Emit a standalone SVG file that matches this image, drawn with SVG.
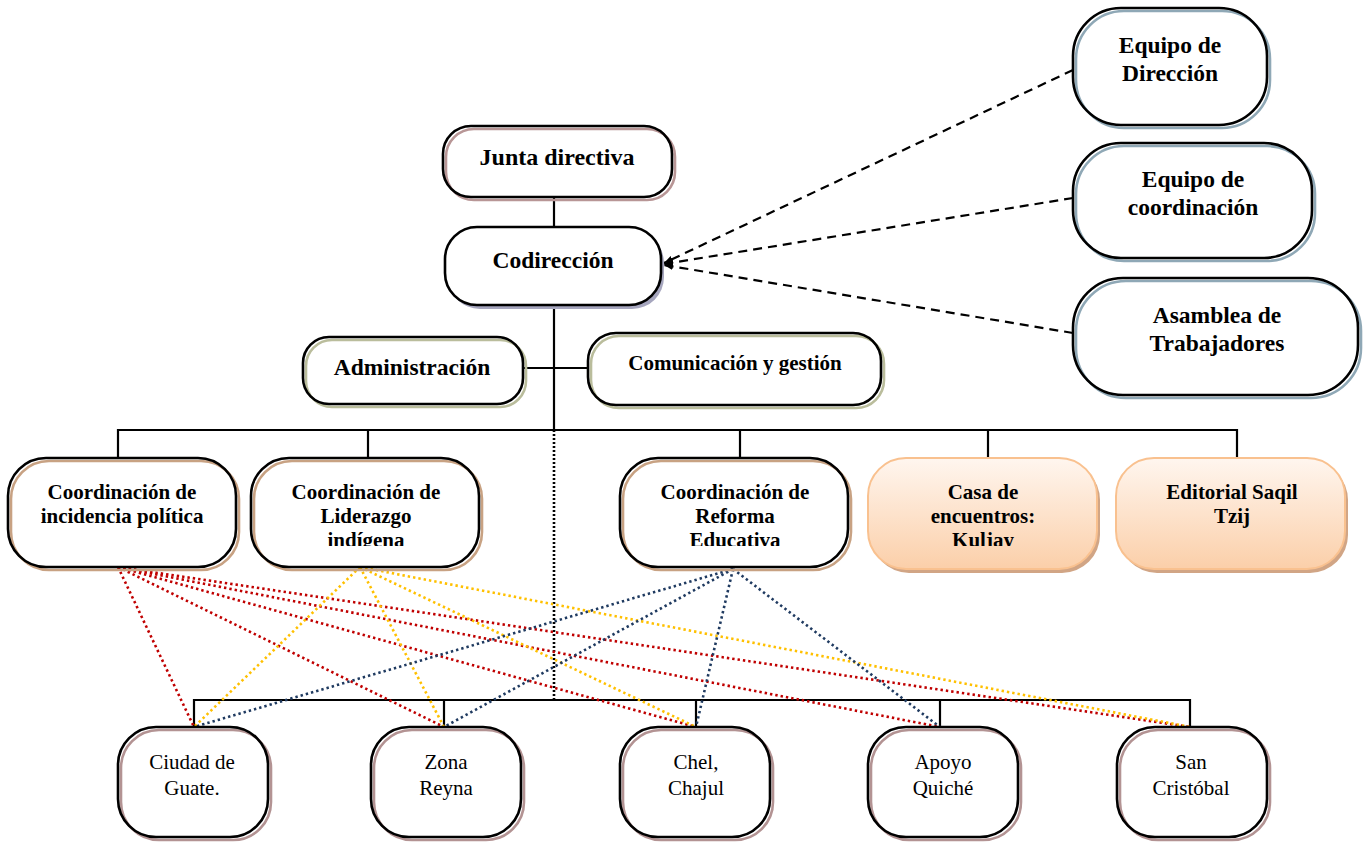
<svg xmlns="http://www.w3.org/2000/svg" width="1369" height="844" viewBox="0 0 1369 844">
<style>
.f{fill:#fff}
.k{fill:none;stroke:#000;stroke-width:2.6}
.s1{fill:none;stroke:#b89696;stroke-width:2.6}
.s2{fill:none;stroke:#8fa8b6;stroke-width:2.6}
.s3{fill:none;stroke:#babd9c;stroke-width:2.6}
.s4{fill:none;stroke:#c8a283;stroke-width:2.6}
.s5{fill:none;stroke:#b39393;stroke-width:2.6}
.pe{fill:url(#peach);stroke:#f9c18f;stroke-width:2}
.peS{fill:#d1a585}
.tb{font-family:"Liberation Serif",serif;font-weight:bold;text-anchor:middle;fill:#000}
.tr{font-family:"Liberation Serif",serif;text-anchor:middle;fill:#000;font-size:21px}
.ln{fill:none;stroke:#000;stroke-width:2.2}
.dash{fill:none;stroke:#000;stroke-width:2.2;stroke-dasharray:9 6;marker-end:url(#arr)}
.dot{fill:none;stroke-width:2.6;stroke-dasharray:2.4 3}
.red{stroke:#c00000}
.yel{stroke:#ffc000}
.nav{stroke:#1f3a60}
</style>
<defs>
<linearGradient id="peach" x1="0" y1="0" x2="0" y2="1">
<stop offset="0" stop-color="#fff6ef"/>
<stop offset="1" stop-color="#fbcfa9"/>
</linearGradient>
<marker id="arr" markerWidth="10" markerHeight="10" refX="9" refY="5" orient="auto" markerUnits="userSpaceOnUse">
<path d="M0,1.5 L9,5 L0,8.5 z" fill="#000"/>
</marker>
<clipPath id="c2"><rect x="240" y="460" width="250" height="86"/></clipPath>
<clipPath id="c3"><rect x="610" y="460" width="250" height="86"/></clipPath>
<clipPath id="c4"><rect x="860" y="460" width="250" height="86"/></clipPath>
</defs>

<g id="connectors">
<line class="ln" x1="554" y1="197" x2="554" y2="228"/>
<line class="ln" x1="554" y1="305" x2="554" y2="430"/>
<line class="ln" x1="523" y1="368" x2="588" y2="368"/>
<polyline class="ln" points="118,458 118,430 1237,430 1237,458"/>
<line class="ln" x1="368" y1="430" x2="368" y2="458"/>
<line class="ln" x1="740" y1="430" x2="740" y2="458"/>
<line class="ln" x1="988" y1="430" x2="988" y2="458"/>
<line x1="554" y1="430" x2="554" y2="700" stroke="#000" stroke-width="2.6" stroke-dasharray="2 2"/>
<polyline class="ln" points="194,727 194,700 1190,700 1190,727"/>
<line class="ln" x1="444" y1="700" x2="444" y2="727"/>
<line class="ln" x1="696" y1="700" x2="696" y2="727"/>
<line class="ln" x1="940" y1="700" x2="940" y2="727"/>
<line class="dash" x1="1073" y1="70" x2="664" y2="263"/>
<line class="dash" x1="1073" y1="198" x2="664" y2="264"/>
<line class="dash" x1="1073" y1="333" x2="664" y2="265"/>
<g class="dot red">
<line x1="118" y1="567" x2="194" y2="727"/>
<line x1="118" y1="567" x2="444" y2="727"/>
<line x1="118" y1="567" x2="696" y2="727"/>
<line x1="118" y1="567" x2="940" y2="727"/>
<line x1="118" y1="567" x2="1190" y2="727"/>
</g>
<g class="dot yel">
<line x1="360" y1="567" x2="194" y2="727"/>
<line x1="360" y1="567" x2="444" y2="727"/>
<line x1="360" y1="567" x2="696" y2="727"/>
<line x1="360" y1="567" x2="1190" y2="727"/>
</g>
<g class="dot nav">
<line x1="733" y1="569" x2="194" y2="727"/>
<line x1="733" y1="569" x2="444" y2="727"/>
<line x1="733" y1="569" x2="696" y2="727"/>
<line x1="733" y1="569" x2="940" y2="727"/>
</g>
</g>

<g id="junta">
<rect class="f" x="443" y="126" width="229" height="71" rx="28"/>
<rect class="s1" x="446" y="129" width="229" height="71" rx="28"/>
<rect class="k" x="443" y="126" width="229" height="71" rx="28"/>
<text class="tb" x="557" y="165" font-size="24">Junta directiva</text>
</g>
<g id="codireccion">
<rect x="448" y="231" width="216" height="78" rx="32" fill="#a6a6be"/>
<rect class="f" x="445" y="227" width="216" height="78" rx="32"/>
<rect class="k" x="445" y="227" width="216" height="78" rx="32"/>
<text class="tb" x="553" y="268" font-size="23.5">Codirección</text>
</g>
<g id="administracion">
<rect class="f" x="303" y="337" width="220" height="67" rx="26"/>
<rect class="s3" x="306" y="340" width="220" height="67" rx="26"/>
<rect class="k" x="303" y="337" width="220" height="67" rx="26"/>
<text class="tb" x="412" y="375" font-size="23.5">Administración</text>
</g>
<g id="comunicacion">
<rect class="f" x="588" y="333" width="293" height="72" rx="28"/>
<rect class="s3" x="591" y="336" width="293" height="72" rx="28"/>
<rect class="k" x="588" y="333" width="293" height="72" rx="28"/>
<text class="tb" x="735" y="370" font-size="21">Comunicación y gestión</text>
</g>
<g id="equipo-direccion">
<rect class="f" x="1073" y="8" width="194" height="117" rx="48"/>
<rect class="s2" x="1076" y="11" width="194" height="117" rx="48"/>
<rect class="k" x="1073" y="8" width="194" height="117" rx="48"/>
<text class="tb" x="1170" y="53" font-size="23.5">Equipo de</text>
<text class="tb" x="1170" y="81" font-size="23.5">Dirección</text>
</g>
<g id="equipo-coordinacion">
<rect class="f" x="1073" y="143" width="239" height="115" rx="48"/>
<rect class="s2" x="1076" y="146" width="239" height="115" rx="48"/>
<rect class="k" x="1073" y="143" width="239" height="115" rx="48"/>
<text class="tb" x="1193" y="187" font-size="23.5">Equipo de</text>
<text class="tb" x="1193" y="215" font-size="23.5">coordinación</text>
</g>
<g id="asamblea">
<rect class="f" x="1073" y="278" width="285" height="117" rx="50"/>
<rect class="s2" x="1076" y="281" width="285" height="117" rx="50"/>
<rect class="k" x="1073" y="278" width="285" height="117" rx="50"/>
<text class="tb" x="1217" y="323" font-size="23.5">Asamblea de</text>
<text class="tb" x="1217" y="351" font-size="23.5">Trabajadores</text>
</g>

<g id="coord-incidencia">
<rect class="f" x="8" y="458" width="228" height="109" rx="38"/>
<rect class="s4" x="11" y="461" width="228" height="109" rx="38"/>
<rect class="k" x="8" y="458" width="228" height="109" rx="38"/>
<text class="tb" x="122" y="499" font-size="21">Coordinación de</text>
<text class="tb" x="122" y="523" font-size="21">incidencia política</text>
</g>
<g id="coord-liderazgo">
<rect class="f" x="251" y="458" width="228" height="109" rx="38"/>
<rect class="s4" x="254" y="461" width="228" height="109" rx="38"/>
<rect class="k" x="251" y="458" width="228" height="109" rx="38"/>
<g clip-path="url(#c2)">
<text class="tb" x="366" y="499" font-size="21">Coordinación de</text>
<text class="tb" x="366" y="523" font-size="21">Liderazgo</text>
<text class="tb" x="366" y="547" font-size="21">indígena</text>
</g>
</g>
<g id="coord-reforma">
<rect class="f" x="620" y="458" width="228" height="109" rx="38"/>
<rect class="s4" x="623" y="461" width="228" height="109" rx="38"/>
<rect class="k" x="620" y="458" width="228" height="109" rx="38"/>
<g clip-path="url(#c3)">
<text class="tb" x="735" y="499" font-size="21">Coordinación de</text>
<text class="tb" x="735" y="523" font-size="21">Reforma</text>
<text class="tb" x="735" y="547" font-size="21">Educativa</text>
</g>
</g>
<g id="casa-encuentros">
<rect class="peS" x="871" y="462" width="229" height="111" rx="38"/>
<rect class="pe" x="868" y="458" width="229" height="111" rx="38"/>
<g clip-path="url(#c4)">
<text class="tb" x="983" y="499" font-size="21">Casa de</text>
<text class="tb" x="983" y="523" font-size="21">encuentros:</text>
<text class="tb" x="983" y="547" font-size="21">Kuljay</text>
</g>
</g>
<g id="editorial">
<rect class="peS" x="1119" y="462" width="229" height="111" rx="38"/>
<rect class="pe" x="1116" y="458" width="229" height="111" rx="38"/>
<text class="tb" x="1232" y="499" font-size="21">Editorial Saqil</text>
<text class="tb" x="1232" y="523" font-size="21">Tzij</text>
</g>

<g id="ciudad">
<rect class="f" x="118" y="727" width="150" height="110" rx="38"/>
<rect class="s5" x="121" y="730" width="150" height="110" rx="38"/>
<rect class="k" x="118" y="727" width="150" height="110" rx="38"/>
<text class="tr" x="192" y="769">Ciudad de</text>
<text class="tr" x="192" y="795">Guate.</text>
</g>
<g id="zona">
<rect class="f" x="371" y="727" width="150" height="110" rx="38"/>
<rect class="s5" x="374" y="730" width="150" height="110" rx="38"/>
<rect class="k" x="371" y="727" width="150" height="110" rx="38"/>
<text class="tr" x="446" y="769">Zona</text>
<text class="tr" x="446" y="795">Reyna</text>
</g>
<g id="chel">
<rect class="f" x="620" y="727" width="150" height="110" rx="38"/>
<rect class="s5" x="623" y="730" width="150" height="110" rx="38"/>
<rect class="k" x="620" y="727" width="150" height="110" rx="38"/>
<text class="tr" x="696" y="769">Chel,</text>
<text class="tr" x="696" y="795">Chajul</text>
</g>
<g id="apoyo">
<rect class="f" x="868" y="727" width="150" height="110" rx="38"/>
<rect class="s5" x="871" y="730" width="150" height="110" rx="38"/>
<rect class="k" x="868" y="727" width="150" height="110" rx="38"/>
<text class="tr" x="943" y="769">Apoyo</text>
<text class="tr" x="943" y="795">Quiché</text>
</g>
<g id="san-cristobal">
<rect class="f" x="1117" y="727" width="150" height="110" rx="38"/>
<rect class="s5" x="1120" y="730" width="150" height="110" rx="38"/>
<rect class="k" x="1117" y="727" width="150" height="110" rx="38"/>
<text class="tr" x="1191" y="769">San</text>
<text class="tr" x="1191" y="795">Cristóbal</text>
</g>
</svg>
